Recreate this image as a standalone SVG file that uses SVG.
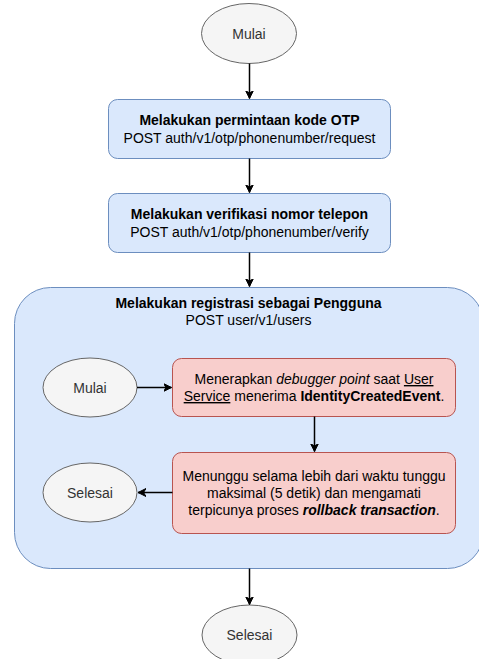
<svg xmlns="http://www.w3.org/2000/svg" width="479" height="659" viewBox="0 0 479 659">
<defs>
<marker id="arr" markerWidth="10" markerHeight="10" refX="8" refY="5" orient="auto" markerUnits="userSpaceOnUse">
<path d="M0,1 L8,5 L0,9 L2.5,5 Z" fill="#000" stroke="#000" stroke-width="1"/>
</marker>
<style>
text{font-family:"Liberation Sans",Arial,sans-serif;font-size:14px;fill:#000;text-anchor:middle}
.term ellipse{fill:#f5f5f5;stroke:#666;stroke-width:1}
.term text{fill:#333}
.blue rect{fill:#dae8fc;stroke:#6c8ebf;stroke-width:1}
.red rect{fill:#f8cecc;stroke:#b85450;stroke-width:1}
.b{font-weight:bold}
.conn line{stroke:#000;stroke-width:1.5;marker-end:url(#arr)}
</style>
</defs>
<rect width="479" height="659" fill="#fff"/>
<g id="container" class="blue">
<rect x="14.5" y="287.5" width="469" height="281" rx="36" ry="36"/>
<text x="248.5" y="308" class="b">Melakukan registrasi sebagai Pengguna</text>
<text x="248.5" y="325">POST user/v1/users</text>
</g>
<g id="start" class="term">
<ellipse cx="249" cy="33.5" rx="47.5" ry="30"/>
<text x="249" y="38.5">Mulai</text>
</g>
<g id="otp-request" class="blue">
<rect x="108.5" y="99.5" width="282" height="59" rx="9" ry="9"/>
<text x="249.5" y="124.5" class="b">Melakukan permintaan kode OTP</text>
<text x="249.5" y="142.5">POST auth/v1/otp/phonenumber/request</text>
</g>
<g id="otp-verify" class="blue">
<rect x="108.5" y="193.5" width="282" height="59" rx="9" ry="9"/>
<text x="249.5" y="218.5" class="b">Melakukan verifikasi nomor telepon</text>
<text x="249.5" y="236.5">POST auth/v1/otp/phonenumber/verify</text>
</g>
<g id="inner-start" class="term">
<ellipse cx="90" cy="387.5" rx="47" ry="29.5"/>
<text x="90" y="392.5">Mulai</text>
</g>
<g id="debugger" class="red">
<rect x="172.5" y="358.5" width="283" height="58" rx="9" ry="9"/>
<text x="314" y="384">Menerapkan <tspan font-style="italic">debugger point</tspan> saat <tspan text-decoration="underline">User</tspan></text>
<text x="314" y="401"><tspan text-decoration="underline">Service</tspan> menerima <tspan class="b">IdentityCreatedEvent</tspan>.</text>
</g>
<g id="wait" class="red">
<rect x="172.5" y="452.5" width="283" height="81" rx="9" ry="9"/>
<text x="314" y="481">Menunggu selama lebih dari waktu tunggu</text>
<text x="314" y="498">maksimal (5 detik) dan mengamati</text>
<text x="314" y="515">terpicunya proses <tspan class="b" font-style="italic">rollback transaction</tspan>.</text>
</g>
<g id="inner-end" class="term">
<ellipse cx="90" cy="492.5" rx="47" ry="29.5"/>
<text x="90" y="497.5">Selesai</text>
</g>
<g id="end" class="term">
<ellipse cx="249.5" cy="635" rx="47.5" ry="30"/>
<text x="249.5" y="640">Selesai</text>
</g>
<g id="connectors" class="conn">
<line x1="249.5" y1="63.5" x2="249.5" y2="98.5"/>
<line x1="249.5" y1="158.5" x2="249.5" y2="192.5"/>
<line x1="249.5" y1="252.5" x2="249.5" y2="286.5"/>
<line x1="137" y1="387.5" x2="171.5" y2="387.5"/>
<line x1="314.5" y1="416.5" x2="314.5" y2="451.5"/>
<line x1="172.5" y1="492.5" x2="138" y2="492.5"/>
<line x1="249.5" y1="568.5" x2="249.5" y2="604.5"/>
</g>
</svg>
